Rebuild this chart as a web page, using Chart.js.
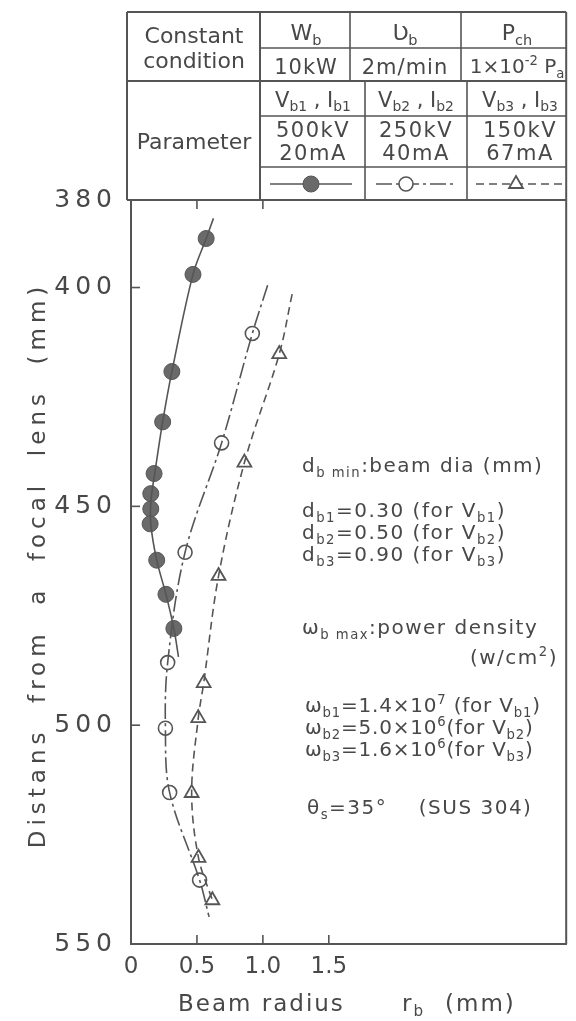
<!DOCTYPE html>
<html lang="en">
<head>
<meta charset="UTF-8">
<title>Beam radius vs distance from focal lens</title>
<script src="https://cdn.jsdelivr.net/npm/chart.js"></script>
<style>
  html, body { margin: 0; padding: 0; background: #fff; }
  #chart { display: block; }
</style>
</head>
<body>
<canvas id="chart" width="576" height="1021"></canvas>
<script>
// axis ticks
const xTicks = [0, 0.5, 1.0, 1.5];
const yTicks = [380, 400, 450, 500, 550];

// V_b1 = 500kV, 20mA : measured points (beam radius mm, distance mm)
const s1R = [0.57, 0.47, 0.31, 0.24, 0.175, 0.15, 0.15, 0.145, 0.195, 0.265, 0.325];
const s1D = [388.8, 397.0, 419.2, 430.7, 442.5, 447.1, 450.6, 454.0, 462.3, 470.1, 477.9];
// drawn curve through them
const fit1R = [0.625, 0.57, 0.47, 0.31, 0.24, 0.18, 0.152, 0.15, 0.195, 0.265, 0.325, 0.36];
const fit1D = [384.2, 388.8, 397.0, 419.2, 430.7, 442.5, 448.5, 454.0, 462.3, 470.1, 477.9, 484.4];

// V_b2 = 250kV, 40mA
const s2R = [0.92, 0.687, 0.41, 0.278, 0.261, 0.293, 0.52];
const s2D = [410.5, 435.5, 460.5, 485.7, 500.7, 515.4, 535.4];
const fit2R = [1.036, 0.92, 0.687, 0.41, 0.278, 0.261, 0.293, 0.52, 0.592];
const fit2D = [399.5, 410.5, 435.5, 460.5, 485.7, 500.7, 515.4, 535.4, 543.8];

// V_b3 = 150kV, 67mA
const s3R = [1.124, 0.86, 0.664, 0.551, 0.51, 0.46, 0.512, 0.617];
const s3D = [415.2, 440.0, 465.9, 490.4, 498.4, 515.5, 530.3, 540.0];
const fit3R = [1.222, 1.124, 0.86, 0.664, 0.551, 0.51, 0.46, 0.512, 0.617];
const fit3D = [401.5, 415.2, 440.0, 465.9, 490.4, 498.4, 515.5, 530.3, 540.0];

const FONT = '"DejaVu Sans", sans-serif';
const INK = '#484848';
const LINE = '#555';

const pts = (xs, ys) => xs.map((x, i) => ({ x: x, y: ys[i] }));

const mark1 = { pointStyle: 'circle', radius: 8, bg: '#6a6a6a', bw: 1 };
const mark2 = { pointStyle: 'circle', radius: 7, bg: '#fff', bw: 1.6 };
const mark3 = { pointStyle: 'triangle', radius: 8, bg: '#fff', bw: 1.8 };
const dash2 = [16, 4, 3, 4];
const dash3 = [8, 5];

function curve(data, dash) {
  return { data: data, showLine: true, tension: 0.35, borderColor: LINE, borderWidth: 1.6,
           borderDash: dash, pointRadius: 0, fill: false };
}
function markers(data, m) {
  return { data: data, showLine: false, pointStyle: m.pointStyle, pointRadius: m.radius,
           pointBackgroundColor: m.bg, pointBorderColor: LINE, pointBorderWidth: m.bw };
}

// draws "a_{sub}" and "a^{sup}" text, y = middle of the capitals
function rich(ctx, str, x, y, size, opts) {
  opts = opts || {};
  const parts = [];
  const re = /([_^])\{([^}]*)\}/g;
  let last = 0, m;
  while ((m = re.exec(str))) {
    if (m.index > last) parts.push({ t: str.slice(last, m.index), k: '' });
    parts.push({ t: m[2], k: m[1] });
    last = re.lastIndex;
  }
  if (last < str.length) parts.push({ t: str.slice(last), k: '' });
  ctx.save();
  ctx.letterSpacing = (opts.ls || 0) + 'px';
  ctx.textBaseline = 'alphabetic';
  ctx.textAlign = 'left';
  ctx.fillStyle = INK;
  const sized = parts.map(p => {
    const s = p.k ? size * 0.66 : size;
    ctx.font = s + 'px ' + FONT;
    return { t: p.t, k: p.k, s: s, w: ctx.measureText(p.t).width };
  });
  const total = sized.reduce((a, p) => a + p.w, 0);
  let cx = opts.align === 'center' ? x - total / 2 : opts.align === 'right' ? x - total : x;
  const base = y + size * 0.36;
  sized.forEach(p => {
    ctx.font = p.s + 'px ' + FONT;
    const dy = p.k === '_' ? size * 0.22 : p.k === '^' ? -size * 0.42 : 0;
    ctx.fillText(p.t, cx, base + dy);
    cx += p.w;
  });
  ctx.restore();
}

function seg(ctx, x1, y1, x2, y2, w, dash) {
  ctx.save();
  ctx.strokeStyle = LINE;
  ctx.lineWidth = w;
  ctx.setLineDash(dash || []);
  ctx.beginPath();
  ctx.moveTo(x1, y1);
  ctx.lineTo(x2, y2);
  ctx.stroke();
  ctx.restore();
}

function legendMark(ctx, m, x, y) {
  ctx.save();
  ctx.fillStyle = m.bg;
  ctx.strokeStyle = LINE;
  ctx.lineWidth = m.bw;
  Chart.helpers.drawPoint(ctx, { pointStyle: m.pointStyle, radius: m.radius, rotation: 0, borderWidth: m.bw }, x, y);
  ctx.restore();
}

const figure = {
  id: 'figure',
  afterDraw(chart) {
    const ctx = chart.ctx;
    const a = chart.chartArea;
    const xs = chart.scales.x, ys = chart.scales.y;

    // frame: top and right
    seg(ctx, a.left - 4, a.top, a.right, a.top, 2);
    seg(ctx, a.right, 12, a.right, a.bottom, 2);

    // inward ticks
    xTicks.filter(v => v > 0).forEach(v => {
      const px = xs.getPixelForValue(v);
      seg(ctx, px, a.bottom, px, a.bottom - 9, 1.6);
    });
    xTicks.filter(v => v > 0 && v < 1.5).forEach(v => {
      const px = xs.getPixelForValue(v);
      seg(ctx, px, a.top, px, a.top + 9, 1.6);
    });
    yTicks.slice(1, -1).forEach(v => {
      const py = ys.getPixelForValue(v);
      seg(ctx, a.left, py, a.left + 9, py, 1.6);
    });

    // condition table
    const L = 127, T = 12, R = a.right, B = a.top;
    seg(ctx, L, T, R, T, 2);
    seg(ctx, L, T, L, B, 2);
    seg(ctx, 260, T, 260, B, 2);
    seg(ctx, 260, 48, R, 48, 1.6);
    seg(ctx, L, 81, R, 81, 2);
    seg(ctx, 350, T, 350, 81, 1.6);
    seg(ctx, 461, T, 461, 81, 1.6);
    seg(ctx, 260, 116, R, 116, 1.6);
    seg(ctx, 260, 167, R, 167, 1.6);
    seg(ctx, 365, 81, 365, B, 1.6);
    seg(ctx, 467, 81, 467, B, 1.6);

    rich(ctx, 'Constant', 194, 35, 22, { align: 'center' });
    rich(ctx, 'condition', 194, 60, 22, { align: 'center' });
    rich(ctx, 'W_{b}', 306, 32, 22, { align: 'center' });
    rich(ctx, 'Ʋ_{b}', 405, 32, 22, { align: 'center' });
    rich(ctx, 'P_{ch}', 517, 32, 22, { align: 'center' });
    rich(ctx, '10kW', 306, 66, 21, { align: 'center', ls: 1 });
    rich(ctx, '2m/min', 405, 66, 21, { align: 'center', ls: 1 });
    rich(ctx, '1×10^{-2} P_{a}', 517, 66, 20, { align: 'center' });
    rich(ctx, 'Parameter', 194, 141, 22, { align: 'center' });
    rich(ctx, 'V_{b1} , I_{b1}', 313, 99, 21, { align: 'center' });
    rich(ctx, 'V_{b2} , I_{b2}', 416, 99, 21, { align: 'center' });
    rich(ctx, 'V_{b3} , I_{b3}', 520, 99, 21, { align: 'center' });
    rich(ctx, '500kV', 313, 129, 21, { align: 'center', ls: 1.5 });
    rich(ctx, '20mA', 313, 152, 21, { align: 'center', ls: 1.5 });
    rich(ctx, '250kV', 416, 129, 21, { align: 'center', ls: 1.5 });
    rich(ctx, '40mA', 416, 152, 21, { align: 'center', ls: 1.5 });
    rich(ctx, '150kV', 520, 129, 21, { align: 'center', ls: 1.5 });
    rich(ctx, '67mA', 520, 152, 21, { align: 'center', ls: 1.5 });

    // line samples
    const ly = 184;
    seg(ctx, 270, ly, 352, ly, 1.6);
    legendMark(ctx, mark1, 311, ly);
    seg(ctx, 376, ly, 455, ly, 1.6, dash2);
    legendMark(ctx, mark2, 406, ly);
    seg(ctx, 476, ly, 566, ly, 1.6, dash3);
    legendMark(ctx, mark3, 516, ly);

    // notes
    const nx = 302, fs = 20, ls = 1.5;
    rich(ctx, 'd_{b min}:beam dia (mm)', nx, 465, fs, { ls: ls });
    rich(ctx, 'd_{b1}=0.30 (for V_{b1})', nx, 510, fs, { ls: ls });
    rich(ctx, 'd_{b2}=0.50 (for V_{b2})', nx, 532, fs, { ls: ls });
    rich(ctx, 'd_{b3}=0.90 (for V_{b3})', nx, 554, fs, { ls: ls });
    rich(ctx, 'ω_{b max}:power density', nx, 627, fs, { ls: ls });
    rich(ctx, '(w/cm^{2})', 558, 657, fs, { ls: ls, align: 'right' });
    rich(ctx, 'ω_{b1}=1.4×10^{7} (for V_{b1})', 305, 705, fs, { ls: 0.8 });
    rich(ctx, 'ω_{b2}=5.0×10^{6}(for V_{b2})', 305, 727, fs, { ls: 0.8 });
    rich(ctx, 'ω_{b3}=1.6×10^{6}(for V_{b3})', 305, 749, fs, { ls: 0.8 });
    rich(ctx, 'θ_{s}=35°    (SUS 304)', 307, 807, fs, { ls: ls });

    // axis titles
    rich(ctx, 'Beam radius', 178, 1003, 23, { ls: 2 });
    rich(ctx, 'r_{b}', 402, 1003, 23, { ls: 2 });
    rich(ctx, '(mm)', 445, 1003, 23, { ls: 2 });
    ctx.save();
    ctx.translate(37, 565);
    ctx.rotate(-Math.PI / 2);
    rich(ctx, 'Distans  from  a  focal  lens  (mm)', 0, 0, 23, { align: 'center', ls: 5 });
    ctx.restore();
  }
};

new Chart(document.getElementById('chart'), {
  type: 'scatter',
  data: {
    datasets: [
      curve(pts(fit1R, fit1D), []),
      curve(pts(fit2R, fit2D), dash2),
      curve(pts(fit3R, fit3D), dash3),
      markers(pts(s1R, s1D), mark1),
      markers(pts(s2R, s2D), mark2),
      markers(pts(s3R, s3D), mark3)
    ]
  },
  options: {
    responsive: false,
    animation: false,
    layout: { padding: { top: 200, right: 3, left: 0, bottom: 0 } },
    plugins: { legend: { display: false }, tooltip: { enabled: false } },
    scales: {
      x: {
        type: 'linear', min: 0, max: 3.3,
        afterBuildTicks: s => { s.ticks = xTicks.map(v => ({ value: v })); },
        afterFit: s => { s.height = 77; },
        grid: { display: false, drawTicks: false },
        border: { color: LINE, width: 2 },
        ticks: {
          padding: 9, color: INK, autoSkip: false, maxRotation: 0,
          font: { family: FONT, size: 23 },
          callback: v => (v === 0 ? '0' : v.toFixed(1))
        }
      },
      y: {
        type: 'linear', reverse: true, min: 380, max: 550,
        afterBuildTicks: s => { s.ticks = yTicks.map(v => ({ value: v })); },
        afterFit: s => { s.width = 131; },
        grid: { display: false, drawTicks: false },
        border: { color: LINE, width: 2 },
        ticks: {
          padding: 19, color: INK, autoSkip: false,
          font: { family: FONT, size: 25 },
          callback: v => String(v).split('').join('\u2009')
        }
      }
    }
  },
  plugins: [figure]
});
</script>
</body>
</html>
